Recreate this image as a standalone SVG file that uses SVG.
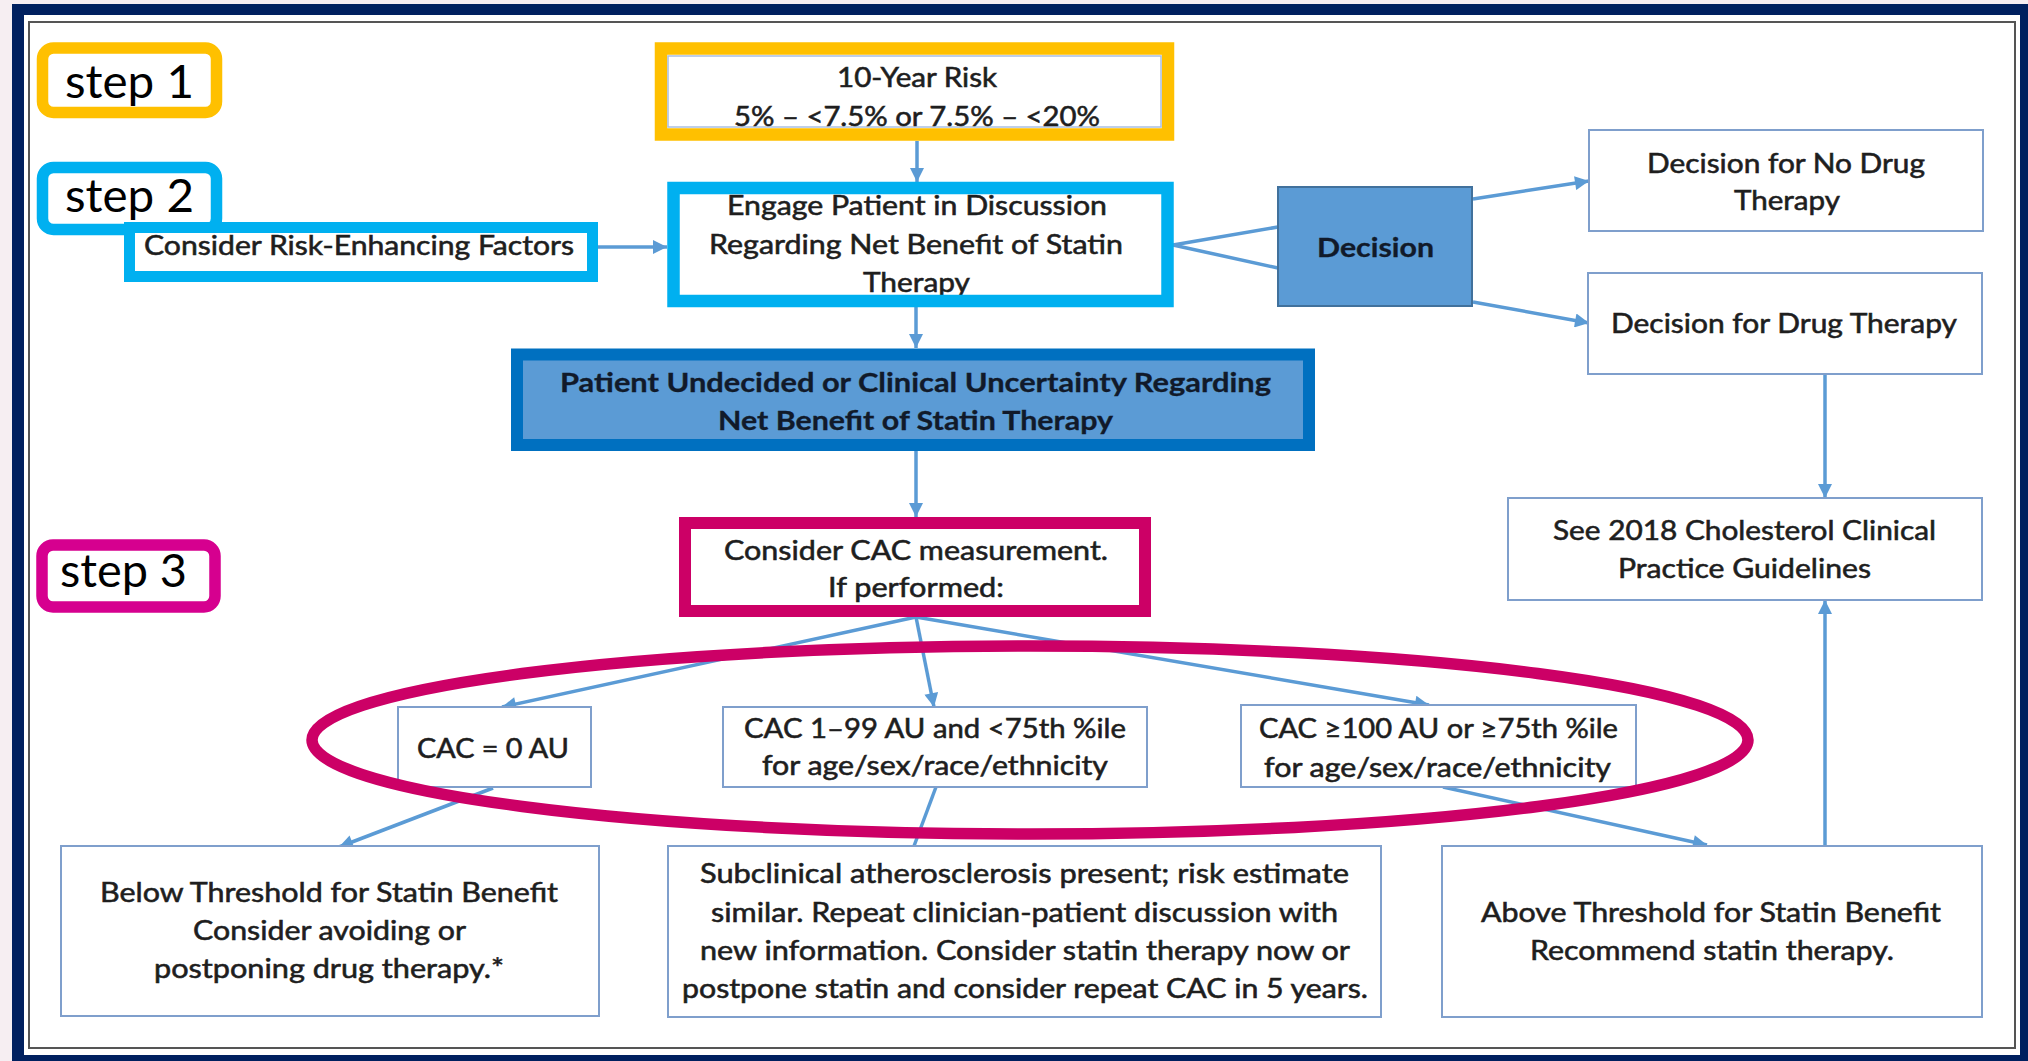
<svg xmlns="http://www.w3.org/2000/svg" width="2028" height="1061" viewBox="0 0 2028 1061">
<style>
.t{font-family:Lato,"Open Sans","Liberation Sans",sans-serif;font-size:26px;fill:#1e1e1e;stroke:#1e1e1e;stroke-width:0.55;text-anchor:middle}
.b{font-weight:bold;fill:#111a2a;stroke:#111a2a;stroke-width:0.3}
.s{font-family:Lato,"Open Sans","Liberation Sans",sans-serif;font-size:46px;fill:#000;text-anchor:middle}
.box{fill:#fff;stroke:#7f9fcc;stroke-width:2}
.c{stroke:#5b9bd5;stroke-width:3.5;fill:none}
.a{marker-end:url(#ah)}
</style>
<defs>
<marker id="ah" viewBox="0 0 10 10" refX="10" refY="5" markerWidth="17" markerHeight="14" markerUnits="userSpaceOnUse" orient="auto">
<path d="M0,0 L10,5 L0,10 z" fill="#5b9bd5"/>
</marker>
</defs>
<rect x="0" y="0" width="2028" height="1061" fill="#f6eef2"/>
<rect x="12" y="4" width="2016" height="1057" fill="#00205f"/>
<rect x="24" y="15" width="1996" height="1040" fill="#fff"/>
<rect x="29" y="22" width="1986" height="1026" fill="#fff" stroke="#555" stroke-width="2"/>

<g id="connectors">
<line class="c a" x1="917" y1="141" x2="917" y2="182"/>
<line class="c a" x1="598" y1="247" x2="667" y2="247"/>
<line class="c" x1="1173" y1="245" x2="1278" y2="227"/>
<line class="c" x1="1173" y1="245" x2="1278" y2="268"/>
<line class="c a" x1="1473" y1="199" x2="1589" y2="181"/>
<line class="c a" x1="1473" y1="302" x2="1589" y2="323"/>
<line class="c a" x1="916" y1="307" x2="916" y2="348"/>
<line class="c a" x1="916" y1="451" x2="916" y2="517"/>
<line class="c a" x1="1825" y1="374" x2="1825" y2="498"/>
<line class="c a" x1="1825" y1="846" x2="1825" y2="600"/>
<line class="c a" x1="916" y1="617" x2="502" y2="707"/>
<line class="c a" x1="916" y1="617" x2="934" y2="707"/>
<line class="c a" x1="916" y1="617" x2="1429" y2="705"/>
<line class="c a" x1="493" y1="788" x2="339" y2="847"/>
<line class="c" x1="936" y1="787" x2="914" y2="846"/>
<line class="c a" x1="1443" y1="787" x2="1707" y2="845"/>
</g>

<g id="step1">
<rect x="42.5" y="48" width="174" height="64.5" rx="11" fill="#fff" stroke="#ffc000" stroke-width="11.5"/>
<text class="s" x="129.5" y="98" textLength="129" lengthAdjust="spacingAndGlyphs">step 1</text>
</g>
<g id="step2">
<rect x="42.5" y="167.5" width="174" height="62" rx="11" fill="#fff" stroke="#00b0f0" stroke-width="11.5"/>
<text class="s" x="129.5" y="212" textLength="129" lengthAdjust="spacingAndGlyphs">step 2</text>
</g>
<g id="step3">
<rect x="42" y="545" width="173" height="62" rx="11" fill="#fff" stroke="#d6008f" stroke-width="11.5"/>
<text class="s" x="123.5" y="587" textLength="127" lengthAdjust="spacingAndGlyphs">step 3</text>
</g>

<g id="risk-factors">
<rect x="129.5" y="227.5" width="463" height="49" fill="#fff" stroke="#00b0f0" stroke-width="11"/>
<text class="t" x="359" y="255" textLength="430" lengthAdjust="spacingAndGlyphs">Consider Risk-Enhancing Factors</text>
</g>

<g id="ten-year-risk">
<rect x="661" y="48.5" width="507" height="86" fill="#fff" stroke="#ffc000" stroke-width="12.5"/>
<rect x="668" y="56" width="493" height="71" fill="none" stroke="#a9bfe2" stroke-width="1.5"/>
<text class="t" x="917" y="87" font-size="27" textLength="160" lengthAdjust="spacingAndGlyphs">10-Year Risk</text>
<text class="t" x="917" y="126" font-size="27" textLength="366" lengthAdjust="spacingAndGlyphs">5% – &lt;7.5% or 7.5% – &lt;20%</text>
</g>

<g id="engage">
<text class="t" x="917" y="215" textLength="380" lengthAdjust="spacingAndGlyphs">Engage Patient in Discussion</text>
<text class="t" x="916" y="254" textLength="414" lengthAdjust="spacingAndGlyphs">Regarding Net Benefit of Statin</text>
<text class="t" x="916.5" y="292" textLength="107" lengthAdjust="spacingAndGlyphs">Therapy</text>
<rect x="673.5" y="188" width="494" height="113" fill="none" stroke="#00b0f0" stroke-width="12.5"/>
</g>

<g id="decision">
<rect x="1278" y="187" width="194" height="119" fill="#5b9bd5" stroke="#41719c" stroke-width="2"/>
<text class="t b" x="1375.5" y="257" font-size="27" textLength="117" lengthAdjust="spacingAndGlyphs">Decision</text>
</g>

<g id="no-drug">
<rect class="box" x="1589" y="130" width="394" height="101"/>
<text class="t" x="1786" y="173" textLength="278" lengthAdjust="spacingAndGlyphs">Decision for No Drug</text>
<text class="t" x="1787" y="210" textLength="106" lengthAdjust="spacingAndGlyphs">Therapy</text>
</g>

<g id="drug">
<rect class="box" x="1588" y="273" width="394" height="101"/>
<text class="t" x="1784" y="333" textLength="346" lengthAdjust="spacingAndGlyphs">Decision for Drug Therapy</text>
</g>

<g id="undecided">
<rect x="517" y="354.5" width="792" height="90.5" fill="#5b9bd5" stroke="#0070c0" stroke-width="12"/>
<text class="t b" x="915.5" y="392" font-size="25" textLength="711" lengthAdjust="spacingAndGlyphs">Patient Undecided or Clinical Uncertainty Regarding</text>
<text class="t b" x="915.5" y="430" font-size="25" textLength="395" lengthAdjust="spacingAndGlyphs">Net Benefit of Statin Therapy</text>
</g>

<g id="cac-measure">
<rect x="685" y="523" width="460" height="88" fill="#fff" stroke="#cc0066" stroke-width="12"/>
<text class="t" x="916" y="560" textLength="384" lengthAdjust="spacingAndGlyphs">Consider CAC measurement.</text>
<text class="t" x="916" y="597" textLength="176" lengthAdjust="spacingAndGlyphs">If performed:</text>
</g>

<g id="see-2018">
<rect class="box" x="1508" y="498" width="474" height="102"/>
<text class="t" x="1744.5" y="540" textLength="383" lengthAdjust="spacingAndGlyphs">See 2018 Cholesterol Clinical</text>
<text class="t" x="1744.5" y="578" textLength="253" lengthAdjust="spacingAndGlyphs">Practice Guidelines</text>
</g>

<g id="cac0">
<rect class="box" x="398" y="707" width="193" height="80"/>
<text class="t" x="493" y="758" textLength="152" lengthAdjust="spacingAndGlyphs">CAC = 0 AU</text>
</g>

<g id="cac1-99">
<rect class="box" x="723" y="707" width="424" height="80"/>
<text class="t" x="935" y="738" textLength="382" lengthAdjust="spacingAndGlyphs">CAC 1–99 AU and &lt;75th %ile</text>
<text class="t" x="935" y="775" textLength="346" lengthAdjust="spacingAndGlyphs">for age/sex/race/ethnicity</text>
</g>

<g id="cac100">
<rect class="box" x="1241" y="705" width="395" height="82"/>
<text class="t" x="1438.5" y="738" textLength="359" lengthAdjust="spacingAndGlyphs">CAC ≥100 AU or ≥75th %ile</text>
<text class="t" x="1437.5" y="777" textLength="347" lengthAdjust="spacingAndGlyphs">for age/sex/race/ethnicity</text>
</g>

<g id="below">
<rect class="box" x="61" y="846" width="538" height="170"/>
<text class="t" x="329" y="902" textLength="458" lengthAdjust="spacingAndGlyphs">Below Threshold for Statin Benefit</text>
<text class="t" x="329.5" y="940" textLength="273" lengthAdjust="spacingAndGlyphs">Consider avoiding or</text>
<text class="t" x="329" y="978" textLength="350" lengthAdjust="spacingAndGlyphs">postponing drug therapy.*</text>
</g>

<g id="subclinical">
<rect class="box" x="668" y="846" width="713" height="171"/>
<text class="t" x="1024.5" y="883" textLength="649" lengthAdjust="spacingAndGlyphs">Subclinical atherosclerosis present; risk estimate</text>
<text class="t" x="1024.5" y="922" textLength="627" lengthAdjust="spacingAndGlyphs">similar. Repeat clinician-patient discussion with</text>
<text class="t" x="1025" y="960" textLength="650" lengthAdjust="spacingAndGlyphs">new information. Consider statin therapy now or</text>
<text class="t" x="1025" y="998" textLength="686" lengthAdjust="spacingAndGlyphs">postpone statin and consider repeat CAC in 5 years.</text>
</g>

<g id="above">
<rect class="box" x="1442" y="846" width="540" height="171"/>
<text class="t" x="1711" y="922" textLength="460" lengthAdjust="spacingAndGlyphs">Above Threshold for Statin Benefit</text>
<text class="t" x="1712" y="960" textLength="364" lengthAdjust="spacingAndGlyphs">Recommend statin therapy.</text>
</g>

<g id="cac-results-highlight">
<ellipse cx="1030" cy="740" rx="718" ry="94" fill="none" stroke="#cc0066" stroke-width="11.5"/>
</g>
</svg>
